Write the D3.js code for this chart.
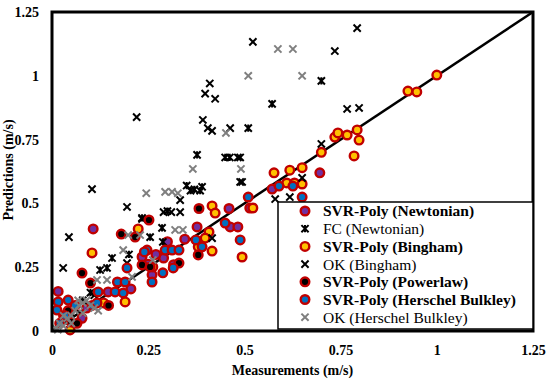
<!DOCTYPE html>
<html>
<head>
<meta charset="utf-8">
<script src="https://cdn.jsdelivr.net/npm/d3@7"></script>
<style>
  body { margin: 0; background: #fff; }
  svg text { font-family: "Liberation Serif", "DejaVu Serif", serif; }
</style>
</head>
<body>
<svg id="chart" width="550" height="384"></svg>
<script>
/*  Data (measured, predicted), m/s  */
const svrNewtonian = [[0.572,0.556],[0.696,0.62],[0.46,0.48],[0.514,0.482],[0.463,0.408],[0.483,0.408],
  [0.377,0.408],[0.345,0.36],[0.234,0.29],[0.29,0.286],[0.26,0.22],[0.316,0.26],[0.107,0.40],[0.016,0.155],
  [0.205,0.165],[0.146,0.153],[0.078,0.05],[0.25,0.262],[0.04,0.07],[0.3,0.35],[0.27,0.3],[0.09,0.09]];
const fcNewtonian = [[0.572,0.89],[0.70,0.98],[0.51,0.795],[0.377,0.69],[0.45,0.68],[0.462,0.68],
  [0.35,0.57],[0.37,0.555],[0.39,0.565],[0.36,0.55],[0.385,0.55],[0.286,0.404],[0.156,0.286],[0.125,0.239],
  [0.143,0.247],[0.234,0.443],[0.255,0.368],[0.288,0.349],[0.3,0.47],[0.06,0.09],[0.03,0.04],[0.08,0.12],
  [0.2,0.3],[0.1,0.15]];
const svrBingham = [[1.0,1.003],[0.925,0.94],[0.948,0.937],[0.735,0.76],[0.743,0.776],[0.767,0.768],
  [0.793,0.788],[0.798,0.748],[0.785,0.686],[0.70,0.70],[0.577,0.62],[0.618,0.63],[0.65,0.64],[0.61,0.58],
  [0.63,0.58],[0.65,0.576],[0.522,0.482],[0.416,0.49],[0.424,0.462],[0.408,0.388],[0.398,0.364],[0.38,0.33],
  [0.416,0.313],[0.494,0.29],[0.224,0.40],[0.104,0.306],[0.19,0.114],[0.047,0.004],[0.262,0.251],[0.134,0.11]];
const okBingham = [[0.793,1.187],[0.522,1.133],[0.735,1.097],[0.41,0.97],[0.398,0.93],[0.424,0.91],
  [0.767,0.87],[0.798,0.874],[0.392,0.827],[0.405,0.795],[0.416,0.784],[0.463,0.795],[0.22,0.838],
  [0.494,0.584],[0.70,0.733],[0.65,0.60],[0.483,0.68],[0.489,0.584],[0.333,0.513],[0.195,0.486],
  [0.29,0.466],[0.31,0.466],[0.333,0.466],[0.104,0.556],[0.044,0.368],[0.029,0.247],[0.416,0.364],
  [0.195,0.266],[0.58,0.517],[0.618,0.525],[0.489,0.68],[0.234,0.439],[0.11,0.14],[0.05,0.07]];
const svrPowerlaw = [[0.382,0.48],[0.38,0.298],[0.252,0.435],[0.216,0.368],[0.078,0.227],[0.10,0.188],
  [0.18,0.38],[0.234,0.259],[0.33,0.266],[0.255,0.251],[0.042,0.08],[0.05,0.035],[0.065,0.03],[0.03,0.06],
  [0.147,0.1]];
const svrHB = [[0.59,0.568],[0.626,0.568],[0.65,0.525],[0.51,0.525],[0.45,0.423],[0.489,0.357],
  [0.374,0.357],[0.39,0.33],[0.247,0.317],[0.294,0.317],[0.312,0.317],[0.33,0.317],[0.315,0.247],
  [0.288,0.228],[0.195,0.247],[0.17,0.192],[0.19,0.192],[0.24,0.31],[0.26,0.192],[0.12,0.153],
  [0.164,0.153],[0.185,0.149],[0.016,0.114],[0.013,0.082],[0.042,0.121],[0.034,0.06],[0.02,0.03],
  [0.104,0.1],[0.117,0.11],[0.06,0.1]];
const okHB = [[0.587,1.105],[0.626,1.105],[0.51,1.0],[0.65,1.0],[0.452,0.776],[0.366,0.635],[0.491,0.635],
  [0.294,0.545],[0.312,0.545],[0.327,0.54],[0.245,0.54],[0.32,0.396],[0.34,0.396],[0.198,0.376],
  [0.229,0.376],[0.185,0.317],[0.262,0.278],[0.208,0.212],[0.117,0.2],[0.143,0.2],[0.068,0.12],
  [0.01,0.01],[0.02,0.03],[0.03,0.02],[0.04,0.05],[0.05,0.06],[0.06,0.08],[0.07,0.1],[0.08,0.11],
  [0.09,0.12],[0.1,0.1],[0.11,0.09],[0.12,0.08],[0.015,0.005],[0.03,0.06],[0.05,0.03],[0.08,0.07]];

const tickValues = [0, 0.25, 0.5, 0.75, 1, 1.25];
const tickLabels = ["0", "0.25", "0.5", "0.75", "1", "1.25"];

const series = [
  {name: "SVR-Poly (Newtonian)",        data: svrNewtonian, type: "circle", fill: "#7030a0", bold: true},
  {name: "FC (Newtonian)",              data: fcNewtonian,  type: "star",   color: "#000",    bold: false},
  {name: "SVR-Poly (Bingham)",          data: svrBingham,   type: "circle", fill: "#ffc000", bold: true},
  {name: "OK (Bingham)",                data: okBingham,    type: "x",      color: "#000",    bold: false},
  {name: "SVR-Poly (Powerlaw)",         data: svrPowerlaw,  type: "circle", fill: "#000",    bold: true},
  {name: "SVR-Poly (Herschel Bulkley)", data: svrHB,        type: "circle", fill: "#0070c0", bold: true},
  {name: "OK (Herschel Bulkley)",       data: okHB,         type: "x",      color: "#7f7f7f", bold: false}
];

/*  Dimensions  */
const margin = {top: 12, right: 17, bottom: 53, left: 52},
      width  = 550 - margin.left - margin.right,
      height = 384 - margin.top  - margin.bottom;

const svg = d3.select("#chart").append("g")
  .attr("transform", `translate(${margin.left},${margin.top})`);

const xScale = d3.scaleLinear().domain([0, 1.25]).range([0, width]);
const yScale = d3.scaleLinear().domain([0, 1.25]).range([height, 0]);

const fmt = d => tickLabels[tickValues.indexOf(d)];
const xAxis = svg.append("g").attr("transform", `translate(0,${height})`)
  .call(d3.axisBottom(xScale).tickValues(tickValues).tickFormat(fmt).tickSize(0).tickPadding(14));
const yAxis = svg.append("g")
  .call(d3.axisLeft(yScale).tickValues(tickValues).tickFormat(fmt).tickSize(0).tickPadding(13));
[xAxis, yAxis].forEach(a => {
  a.select(".domain").remove();
  a.selectAll("text").attr("font-family", "Liberation Serif").attr("font-weight", "bold")
    .attr("font-size", 14).attr("fill", "#000");
});

/* 1:1 line */
svg.append("line")
  .attr("x1", xScale(0)).attr("y1", yScale(0))
  .attr("x2", xScale(1.25)).attr("y2", yScale(1.25))
  .attr("stroke", "#000").attr("stroke-width", 2.5);

function drawMarker(g, s, cx, cy) {
  if (s.type === "circle") {
    g.append("circle").attr("cx", cx).attr("cy", cy).attr("r", 4.3)
      .attr("fill", s.fill).attr("stroke", "#c00000").attr("stroke-width", 2.4);
  } else {
    const r = 3.6;
    const p = `M${cx-r},${cy-r}L${cx+r},${cy+r}M${cx-r},${cy+r}L${cx+r},${cy-r}` +
      (s.type === "star" ? `M${cx},${cy-r}L${cx},${cy+r}` : "");
    g.append("path").attr("d", p).attr("stroke", s.color).attr("stroke-width", 2).attr("fill", "none");
  }
}

const marks = svg.append("g");
series.forEach(s => {
  s.data.forEach(d => drawMarker(marks, s, xScale(d[0]), yScale(d[1])));
});

/* frame */
svg.append("rect").attr("width", width).attr("height", height)
  .attr("fill", "none").attr("stroke", "#000").attr("stroke-width", 3);

/* legend */
const legend = svg.append("g").attr("transform", `translate(${278 - margin.left},${202 - margin.top})`);
legend.append("rect").attr("width", 255).attr("height", 127)
  .attr("fill", "#fff").attr("stroke", "#000").attr("stroke-width", 1.5);
series.forEach((s, i) => {
  const y = 9 + i * 17.7;
  drawMarker(legend, s, 27, y);
  legend.append("text").attr("x", 45).attr("y", y).attr("dy", "0.35em")
    .attr("font-size", 15.5).attr("font-weight", s.bold ? "bold" : "normal")
    .text(s.name);
});

/* axis labels */
svg.append("text").attr("x", width / 2).attr("y", height + 44)
  .attr("text-anchor", "middle").attr("font-size", 14).attr("font-weight", "bold")
  .text("Measurements (m/s)");
svg.append("text").attr("transform", "rotate(-90)")
  .attr("x", -(170 - margin.top)).attr("y", -39)
  .attr("text-anchor", "middle").attr("font-size", 14).attr("font-weight", "bold")
  .text("Predictions (m/s)");
</script>
</body>
</html>
